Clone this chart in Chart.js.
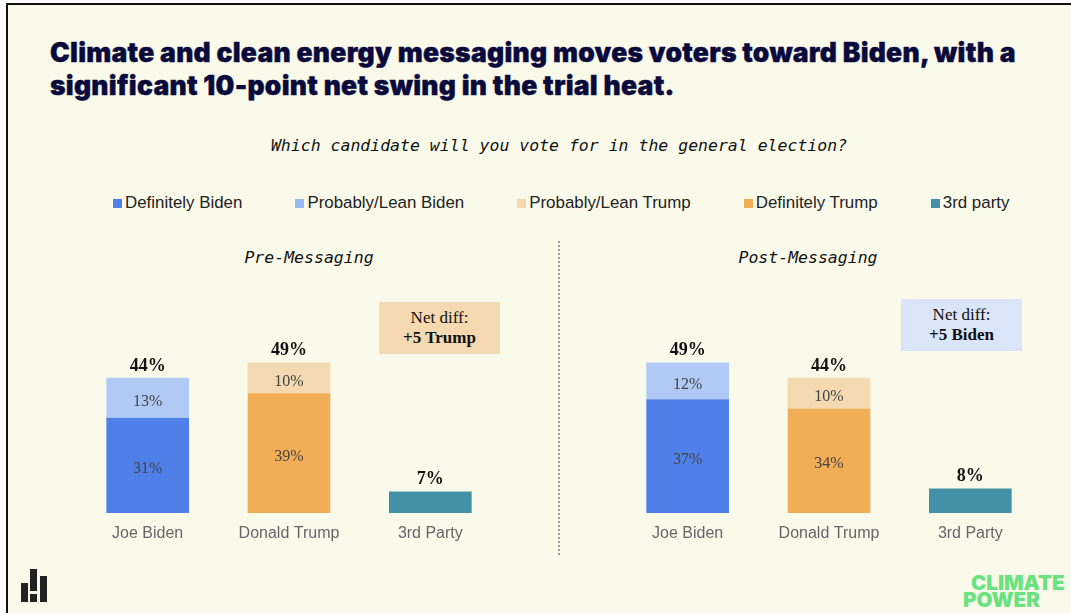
<!DOCTYPE html>
<html>
<head>
<meta charset="utf-8">
<title>Climate and clean energy messaging</title>
<script src="https://cdn.jsdelivr.net/npm/chart.js@4"></script>
<style>
  html, body { margin: 0; padding: 0; background: #fff; }
  .slide { position: relative; width: 1071px; height: 613px; overflow: hidden; }
  .frame { position: absolute; left: 6px; top: 3px; right: -5px; bottom: -5px; background: #fafaeb; border: 2px solid #111; }
  .abs { position: absolute; white-space: nowrap; }
  .title { left: 50px; top: 36px; font: 900 26.5px/33px Inter, sans-serif; letter-spacing: 0.26px; -webkit-text-stroke: 0.4px #0a0a3c; color: #0a0a3c; }
  .mono { font: italic 16.5px/20px "DejaVu Sans Mono", monospace; color: #111; text-align: center; transform: translateX(-50%); }
  .legend { left: 113px; top: 193px; display: flex; gap: 53px; font: 16.9px/20px "Liberation Sans", sans-serif; color: #222; }
  .legend span { display: flex; align-items: center; gap: 3px; }
  .legend i { display: block; width: 9px; height: 9px; }
  .divider { left: 558px; top: 241px; height: 314px; border-left: 2px dotted #999; }
  .netdiff { width: 121px; height: 52px; box-sizing: border-box; padding-top: 6px; text-align: center; font: 17px/20px "Liberation Serif", serif; color: #111; }
  .netdiff b { font-weight: 700; }
  canvas { position: absolute; }
  .brand { left: 963px; top: 574px; font: 900 20.5px/17px Inter, sans-serif; color: #6ae27f; }
  .brand div:first-child { margin-left: 8px; }
</style>
</head>
<body>
<div class="slide">
  <div class="frame"></div>
  <div class="abs title">Climate and clean energy messaging moves voters toward Biden, with a<br>significant 10-point net swing in the trial heat.</div>
  <div class="abs mono" style="left:559px;top:136px">Which candidate will you vote for in the general election?</div>
  <div class="abs legend" id="legend"></div>
  <div class="abs mono" style="left:309px;top:248px">Pre-Messaging</div>
  <div class="abs mono" style="left:808px;top:248px">Post-Messaging</div>
  <div class="abs divider"></div>
  <canvas id="preChart" width="424" height="272" style="left:77px;top:298px"></canvas>
  <canvas id="postChart" width="424" height="272" style="left:617px;top:298px"></canvas>
  <div class="abs netdiff" style="left:379px;top:302px;background:#f5d9b0">Net diff:<br><b>+5 Trump</b></div>
  <div class="abs netdiff" style="left:901px;top:299px;background:#dae5f9">Net diff:<br><b>+5 Biden</b></div>
  <svg class="abs" style="left:0;top:560px" width="60" height="50" fill="#222">
    <rect x="21" y="23" width="7" height="19"/>
    <rect x="30" y="9" width="7" height="22"/>
    <rect x="30" y="34" width="7" height="8"/>
    <rect x="40" y="16" width="7" height="26"/>
  </svg>
  <div class="abs brand"><div>CLIMATE</div><div>POWER</div></div>
</div>

<script>
const categories = ['Joe Biden', 'Donald Trump', '3rd Party'];
// stacking order, bottom segment first
const seriesNames = ['Definitely Biden', 'Probably/Lean Biden', 'Definitely Trump', 'Probably/Lean Trump', '3rd party'];
const seriesColors = ['#4f80ea', '#b1caf5', '#f2ae57', '#f5d9b0', '#4291a6'];
const legendColors = ['#4f80ea', '#9ab8f2', '#f2ae57', '#f5d9b0', '#4291a6'];
const legendOrder = [0, 1, 3, 2, 4];

// one row per series, one value per candidate
const preValues = [
    [31, null, null],
    [13, null, null],
    [null, 39, null],
    [null, 10, null],
    [null, null, 7]
];
const postValues = [
    [37, null, null],
    [12, null, null],
    [null, 34, null],
    [null, 10, null],
    [null, null, 8]
];
const preTotals = [44, 49, 7];
const postTotals = [49, 44, 8];

const AXIS_MAX = 70;

// legend
const legendBox = document.getElementById('legend');
legendOrder.forEach(i => {
    const item = document.createElement('span');
    const swatch = document.createElement('i');
    swatch.style.background = legendColors[i];
    item.appendChild(swatch);
    item.appendChild(document.createTextNode(seriesNames[i]));
    legendBox.appendChild(item);
});

// value labels inside the segments and totals on top of each stack
const barLabels = {
    id: 'barLabels',
    afterDatasetsDraw(chart, args, opts) {
        const ctx = chart.ctx;
        ctx.save();
        ctx.textAlign = 'center';
        ctx.textBaseline = 'middle';
        const tops = {};
        chart.data.datasets.forEach((ds, d) => {
            chart.getDatasetMeta(d).data.forEach((bar, i) => {
                if (ds.data[i] == null) return;
                if (tops[i] === undefined || bar.y < tops[i].y) tops[i] = bar;
                if (d === 4) return; // 3rd party only has the number above it
                ctx.font = '16px "Liberation Serif", serif';
                ctx.fillStyle = '#444';
                ctx.fillText(ds.data[i] + '%', bar.x, (bar.y + bar.base) / 2 + 3.5);
            });
        });
        ctx.font = 'bold 18px "Liberation Serif", serif';
        ctx.fillStyle = '#111';
        Object.keys(tops).forEach(i => {
            ctx.fillText(opts.totals[i] + '%', tops[i].x, tops[i].y - 12);
        });
        ctx.restore();
    }
};

function makeChart(id, values, totals) {
    return new Chart(document.getElementById(id), {
        type: 'bar',
        data: {
            labels: categories,
            datasets: values.map((row, i) => ({
                label: seriesNames[i],
                data: row,
                backgroundColor: seriesColors[i],
                categoryPercentage: 1,
                barPercentage: 0.585
            }))
        },
        options: {
            responsive: false,
            animation: false,
            layout: { padding: 0 },
            plugins: {
                legend: { display: false },
                title: { display: false },
                tooltip: { enabled: false },
                barLabels: { totals: totals }
            },
            scales: {
                x: {
                    stacked: true,
                    grid: { display: false },
                    border: { display: false },
                    ticks: { color: '#666', padding: 3, font: { size: 16, family: '"Liberation Sans", sans-serif' } },
                    afterFit(scale) { scale.height = 57; }
                },
                y: { stacked: true, display: false, min: 0, max: AXIS_MAX }
            }
        },
        plugins: [barLabels]
    });
}

makeChart('preChart', preValues, preTotals);
makeChart('postChart', postValues, postTotals);
</script>
</body>
</html>
